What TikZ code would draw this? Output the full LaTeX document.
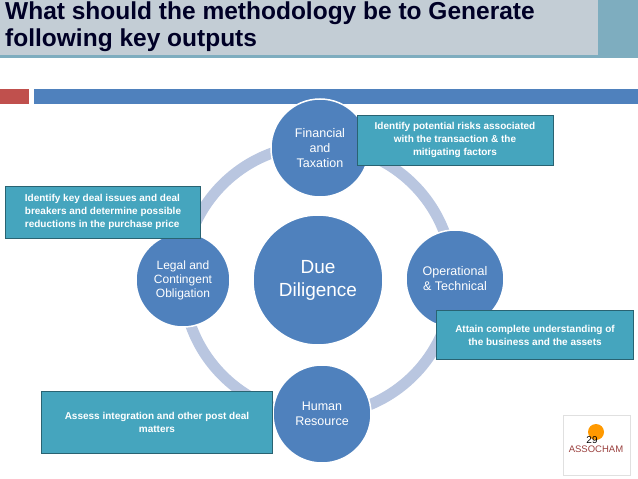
\documentclass[tikz,border=0pt]{standalone}
\usepackage{fontspec}
\setmainfont{Liberation Sans}
\definecolor{titlebg}{HTML}{C3CDD5}
\definecolor{titledark}{HTML}{7EADBF}
\definecolor{barblue}{HTML}{4F81BD}
\definecolor{barred}{HTML}{C0504D}
\definecolor{ringcol}{HTML}{B9C6E0}
\definecolor{boxteal}{HTML}{45A5BE}
\begin{document}
\begin{tikzpicture}[x=1pt,y=-1pt,
  every node/.style={font=\fontsize{12.5}{15}\selectfont},
  stage/.style={circle, fill=barblue, text=white, draw=white, line width=1.5pt,
    align=center, minimum size=98pt, inner sep=0pt},
  note/.style={fill=boxteal, draw=boxteal!60!black, line width=0.5pt, text=white,
    align=center, font=\fontsize{10}{13}\selectfont\bfseries, inner sep=2pt}]
  \useasboundingbox (0,0) rectangle (638,479);
  % title band
  \fill[titlebg] (0,0) rectangle (598,56);
  \fill[titledark] (598,0) rectangle (638,56);
  \fill[titledark] (0,55) rectangle (638,58);
  \node[anchor=north west, align=left, text=black!85!blue, inner sep=0pt,
    font=\fontsize{24.5}{27}\selectfont\bfseries] (title) at (5,2)
    {What should the methodology be to Generate\\ following key outputs};
  \fill[barred] (0,89) rectangle (29,104);
  \fill[barblue] (34,89) rectangle (638,104);
  % ring
  \coordinate (hub) at (318,280);
  \draw[ringcol, line width=11pt] (hub) circle (135);
  % circles
  \node[stage, minimum size=130pt, font=\fontsize{19}{23}\selectfont] (due) at (hub) {Due\\Diligence};
  \node[stage] (fin) at (320,148) {Financial\\and\\Taxation};
  \node[stage] (ops) at (455,279) {Operational\\\& Technical};
  \node[stage] (hum) at (322,414) {Human\\Resource};
  \node[stage, minimum size=94pt, font=\fontsize{12}{14}\selectfont] (leg) at (183,280) {Legal and\\Contingent\\Obligation};
  % notes
  \node[note, minimum width=196pt, minimum height=50pt] (risk) at (455,140)
    {Identify potential risks associated\\with the transaction \& the\\mitigating factors};
  \node[note, align=left, minimum width=195pt, minimum height=52pt] (deal) at (103,212)
    {Identify key deal issues and deal\\breakers and determine possible\\reductions in the purchase price};
  \node[note, minimum width=197pt, minimum height=49pt] (asset) at (535,335)
    {Attain complete understanding of\\the business and the assets};
  \node[note, minimum width=231pt, minimum height=62pt] (post) at (157,422)
    {Assess integration and other post deal\\matters};
  % logo
  \draw[black!12] (563,415) rectangle (630,475);
  \fill[orange!80!yellow] (596,432) circle (8);
  \node[text=barred!80!black, font=\fontsize{9.5}{11}\selectfont\rmfamily] (logo) at (596,449) {ASSOCHAM};
  \node[font=\fontsize{10}{11}\selectfont] (page) at (592,440) {29};
\end{tikzpicture}
\end{document}
